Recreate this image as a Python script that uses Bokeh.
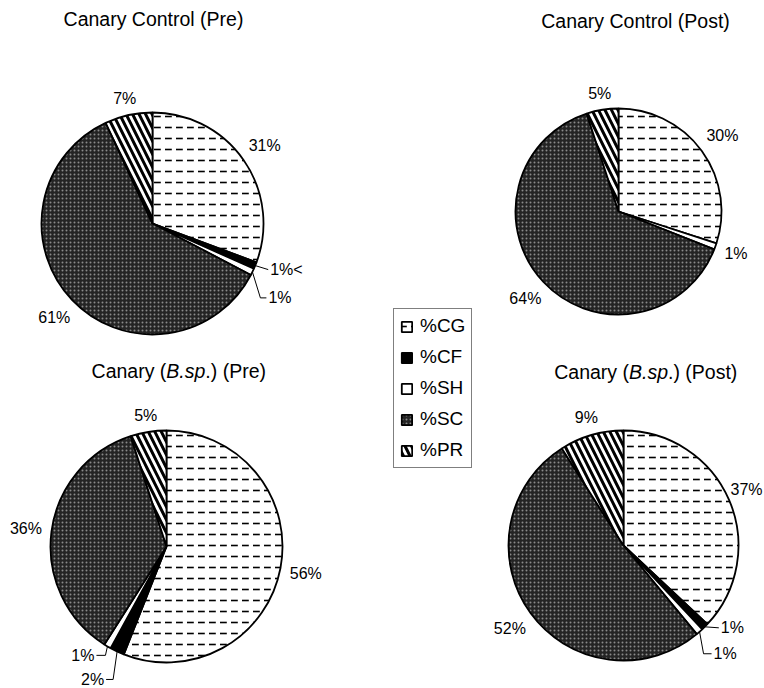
import math
from bokeh.plotting import figure
from bokeh.models import ColumnDataSource, Range1d, Legend, LegendItem
from bokeh.core.properties import value
from bokeh.embed import file_html
from bokeh.resources import INLINE

# ---------------- data ----------------
categories = ["%CG", "%CF", "%SH", "%SC", "%PR"]
control_pre = [31, 1, 1, 61, 7]
control_post = [30, 0, 1, 64, 5]
bsp_pre = [56, 2, 1, 36, 5]
bsp_post = [37, 1, 1, 52, 9]
labels_control_pre = ["31%", "1%<", "1%", "61%", "7%"]
labels_control_post = ["30%", "", "1%", "64%", "5%"]
labels_bsp_pre = ["56%", "2%", "1%", "36%", "5%"]
labels_bsp_post = ["37%", "1%", "1%", "52%", "9%"]
title_parts = [
    [("Canary Control (Pre)", "normal")],
    [("Canary Control (Post)", "normal")],
    [("Canary (", "normal"), ("B.sp", "italic"), (" .) (Pre)", "normal")],
    [("Canary (", "normal"), ("B.sp", "italic"), (" .) (Post)", "normal")],
]
series = [control_pre, control_post, bsp_pre, bsp_post]
series_labels = [labels_control_pre, labels_control_post, labels_bsp_pre, labels_bsp_post]

# ---------------- layout / style ----------------
FONT = "Liberation Sans"
W, H = 764, 688
# pie centre (x, y from top) and radius, in page pixels
PIES = [(152, 223, 111), (618, 211, 103), (166, 546, 116), (623, 545, 115)]
TITLE_POS = [(153, 18), (635, 20), (181, 370), (648, 371)]
# leader-line labels: (pie, slice) -> (align, dx, dy, elbow)
LEADERS = {
    (0, 1): ("left", 15, 4, 0),
    (0, 2): ("left", 16, 26, 8),
    (2, 2): ("right", -13, 9, 11),
    (2, 1): ("right", -13, 28, 9),
    (3, 1): ("left", 16, 1, 0),
    (3, 2): ("left", 14, 22, 10),
}
STYLE = {
    "%CG": dict(fill="white", hatch="horizontal_dash", hcolor="black", hscale=11, hweight=1.6),
    "%CF": dict(fill="black", hatch="blank", hcolor="black", hscale=10, hweight=1),
    "%SH": dict(fill="white", hatch="blank", hcolor="black", hscale=10, hweight=1),
    "%SC": dict(fill="#242424", hatch="dot", hcolor="#8a8a8a", hscale=4, hweight=1.2),
    "%PR": dict(fill="white", hatch="left_diagonal_line", hcolor="black", hscale=13, hweight=3),
}
CW = {' ': 278, '(': 333, ')': 333, '.': 278, 'B': 667, 'C': 722, 'P': 667, 'a': 556,
      'e': 556, 'n': 556, 'o': 556, 'p': 556, 'r': 333, 's': 500, 't': 278, 'y': 500,
      'l': 222, '%': 889, '<': 584}


def tw(s, fs):
    return sum(CW.get(c, 556) for c in s) * fs / 1000.0


p = figure(width=W, height=H, x_range=Range1d(0, W), y_range=Range1d(-H, 0),
           output_backend="svg", toolbar_location=None, min_border=0,
           x_axis_location=None, y_axis_location=None)
p.grid.visible = False
p.outline_line_color = None
p.background_fill_color = "white"
p.border_fill_color = "white"

wedge = dict(x=[], y=[], r=[], start=[], end=[], fill=[], hatch=[], hcolor=[], hscale=[], hweight=[])
auto_lbl = dict(x=[], y=[], text=[])
left_lbl = dict(x=[], y=[], text=[])
right_lbl = dict(x=[], y=[], text=[])
leader_xs, leader_ys = [], []

for k, (vals, lbls) in enumerate(zip(series, series_labels)):
    cx, cy, r = PIES[k]
    total = float(sum(vals))
    cum = 0.0
    for i, (cat, v, t) in enumerate(zip(categories, vals, lbls)):
        a0 = 2 * math.pi * cum / total
        a1 = 2 * math.pi * (cum + v) / total
        cum += v
        if v <= 0:
            continue
        st = STYLE[cat]
        wedge["x"].append(cx); wedge["y"].append(-cy); wedge["r"].append(r)
        wedge["start"].append(math.pi / 2 - a0); wedge["end"].append(math.pi / 2 - a1)
        wedge["fill"].append(st["fill"]); wedge["hatch"].append(st["hatch"])
        wedge["hcolor"].append(st["hcolor"]); wedge["hscale"].append(st["hscale"])
        wedge["hweight"].append(st["hweight"])
        th = (a0 + a1) / 2
        s, c = math.sin(th), math.cos(th)
        if (k, i) in LEADERS:
            align, dx, dy, el = LEADERS[(k, i)]
            ex, ey = cx + r * s, cy - r * c
            ax, ay = ex + dx, ey + dy
            sg = -1 if align == "left" else 1
            pts = [(ex, ey)]
            if el:
                pts.append((ax + sg * el, ay))
            pts.append((ax + sg * 2, ay))
            leader_xs.append([q[0] for q in pts]); leader_ys.append([-q[1] for q in pts])
            d = left_lbl if align == "left" else right_lbl
            d["x"].append(ax); d["y"].append(-ay); d["text"].append(t)
        else:
            w = tw(t, 16)
            R = r + 9 + abs(s) * w / 2 + abs(c) * 6
            lx = min(max(cx + R * s, w / 2 + 2), W - w / 2 - 2)
            auto_lbl["x"].append(lx); auto_lbl["y"].append(-(cy - R * c))
            auto_lbl["text"].append(t)

wsrc = ColumnDataSource(wedge)
wr = p.wedge(x="x", y="y", radius="r", start_angle="start", end_angle="end", direction="clock",
             source=wsrc, fill_color="fill", hatch_pattern="hatch", hatch_color="hcolor",
             hatch_scale="hscale", hatch_weight="hweight", line_color="black", line_width=1.8)

p.multi_line(xs=leader_xs, ys=leader_ys, line_color="black", line_width=1)

common = dict(text_font=value(FONT), text_font_size="16px", text_color="black", text_baseline="middle")
p.text(x="x", y="y", text="text", source=ColumnDataSource(auto_lbl), text_align="center", **common)
p.text(x="x", y="y", text="text", source=ColumnDataSource(left_lbl), text_align="left", **common)
p.text(x="x", y="y", text="text", source=ColumnDataSource(right_lbl), text_align="right", **common)

# titles (with italic part)
TFS = 19.5
for (tx, ty), parts in zip(TITLE_POS, title_parts):
    total_w = sum(tw(s, TFS) for s, _ in parts)
    x0 = tx - total_w / 2
    for s, style in parts:
        p.text(x=[x0], y=[-ty], text=[s], text_font=value(FONT), text_font_size=f"{TFS}px",
               text_font_style=style, text_align="left", text_baseline="middle", text_color="black")
        x0 += tw(s, TFS)

items = [LegendItem(label=value(cat), renderers=[wr], index=i) for i, cat in enumerate(categories)]
legend = Legend(items=items, location=(393, 220), orientation="vertical",
                label_text_font=FONT, label_text_font_size="19px", label_text_color="black",
                glyph_width=13, glyph_height=13,
                padding=6, spacing=9, label_standoff=7, margin=0,
                border_line_color="black", border_line_width=1.2, background_fill_color="white",
                background_fill_alpha=1.0)
p.add_layout(legend)

open("out.html", "w").write(file_html(p, INLINE))
